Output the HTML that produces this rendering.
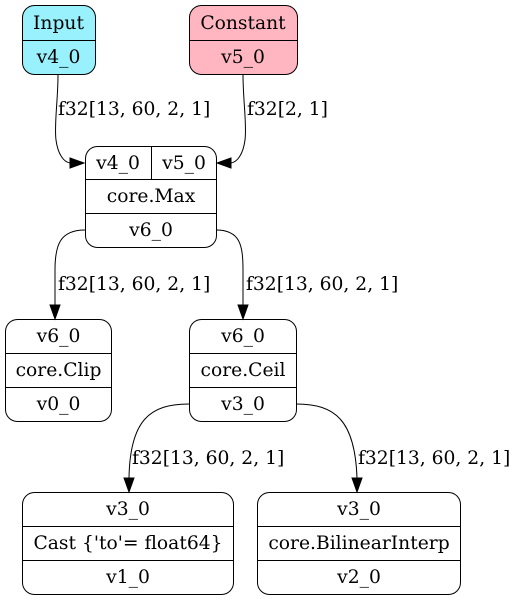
<!DOCTYPE html>
<html><head><style>body{margin:0;background:#fff}svg{display:block}text{font-family:"DejaVu Serif","Liberation Serif",serif;font-size:18.7px}</style></head><body>
<svg width="516" height="601" viewBox="0 0 516 601" xmlns="http://www.w3.org/2000/svg">
<g stroke="#000" stroke-width="1">
<rect x="22.5" y="5.5" width="73" height="69" rx="12" fill="#99f1fd"/>
<line x1="22.5" y1="40.5" x2="95.5" y2="40.5"/>
<rect x="189.5" y="5.5" width="108" height="69" rx="12" fill="#ffb6c1"/>
<line x1="189.5" y1="40.5" x2="297.5" y2="40.5"/>
<rect x="85.5" y="146.5" width="131" height="101" rx="12" fill="#fff"/>
<line x1="85.5" y1="179.5" x2="216.5" y2="179.5"/><line x1="85.5" y1="213.5" x2="216.5" y2="213.5"/><line x1="151.5" y1="146.5" x2="151.5" y2="179.5"/>
<rect x="5.5" y="319.5" width="106" height="102" rx="12" fill="#fff"/>
<line x1="5.5" y1="353.5" x2="111.5" y2="353.5"/><line x1="5.5" y1="387.5" x2="111.5" y2="387.5"/>
<rect x="189.5" y="319.5" width="107" height="102" rx="12" fill="#fff"/>
<line x1="189.5" y1="353.5" x2="296.5" y2="353.5"/><line x1="189.5" y1="387.5" x2="296.5" y2="387.5"/>
<rect x="22.5" y="492.5" width="211" height="102" rx="12" fill="#fff"/>
<line x1="22.5" y1="526.5" x2="233.5" y2="526.5"/><line x1="22.5" y1="560.5" x2="233.5" y2="560.5"/>
<rect x="257.5" y="492.5" width="203" height="102" rx="12" fill="#fff"/>
<line x1="257.5" y1="526.5" x2="460.5" y2="526.5"/><line x1="257.5" y1="560.5" x2="460.5" y2="560.5"/>
<g fill="none">
<path d="M58,75 C58,100 54,125 56,140 C58,155 64,162 70,163"/>
<path d="M243,75 C243,100 247,125 245,140 C243,155 237,162 231,163"/>
<path d="M85,230 C60,230 55,245 55,270 L55,305"/>
<path d="M216,230 C240,230 243,245 243,270 L243,305"/>
<path d="M189,404 C150,404 130,420 129,478"/>
<path d="M296,404 C335,404 355,420 357,478"/>
</g>
<g fill="#000">
<polygon points="70,158 84,163 70,168"/>
<polygon points="231,158 217,163 231,168"/>
<polygon points="50,305 55,319 60,305"/>
<polygon points="238,305 243,319 248,305"/>
<polygon points="124,478 129,492 134,478"/>
<polygon points="352,478 357,492 362,478"/>
</g>
</g>
<g text-anchor="middle">
<text x="58.5" y="29">Input</text><text x="58.5" y="63">v4_0</text>
<text x="243" y="29">Constant</text><text x="243" y="63">v5_0</text>
<text x="118" y="169">v4_0</text><text x="184" y="169">v5_0</text>
<text x="151" y="202">core.Max</text><text x="151" y="236">v6_0</text>
<text x="58.5" y="342">v6_0</text><text x="58.5" y="376">core.Clip</text><text x="58.5" y="410">v0_0</text>
<text x="243" y="342">v6_0</text><text x="243" y="376">core.Ceil</text><text x="243" y="410">v3_0</text>
<text x="128" y="515">v3_0</text><text x="128" y="549">Cast {'to'= float64}</text><text x="128" y="583">v1_0</text>
<text x="359" y="515">v3_0</text><text x="359" y="549">core.BilinearInterp</text><text x="359" y="583">v2_0</text>
</g>
<g>
<text x="58" y="115">f32[13, 60, 2, 1]</text>
<text x="247" y="115">f32[2, 1]</text>
<text x="58" y="290">f32[13, 60, 2, 1]</text>
<text x="246" y="290">f32[13, 60, 2, 1]</text>
<text x="132" y="464">f32[13, 60, 2, 1]</text>
<text x="358" y="464">f32[13, 60, 2, 1]</text>
</g>
</svg>
</body></html>
